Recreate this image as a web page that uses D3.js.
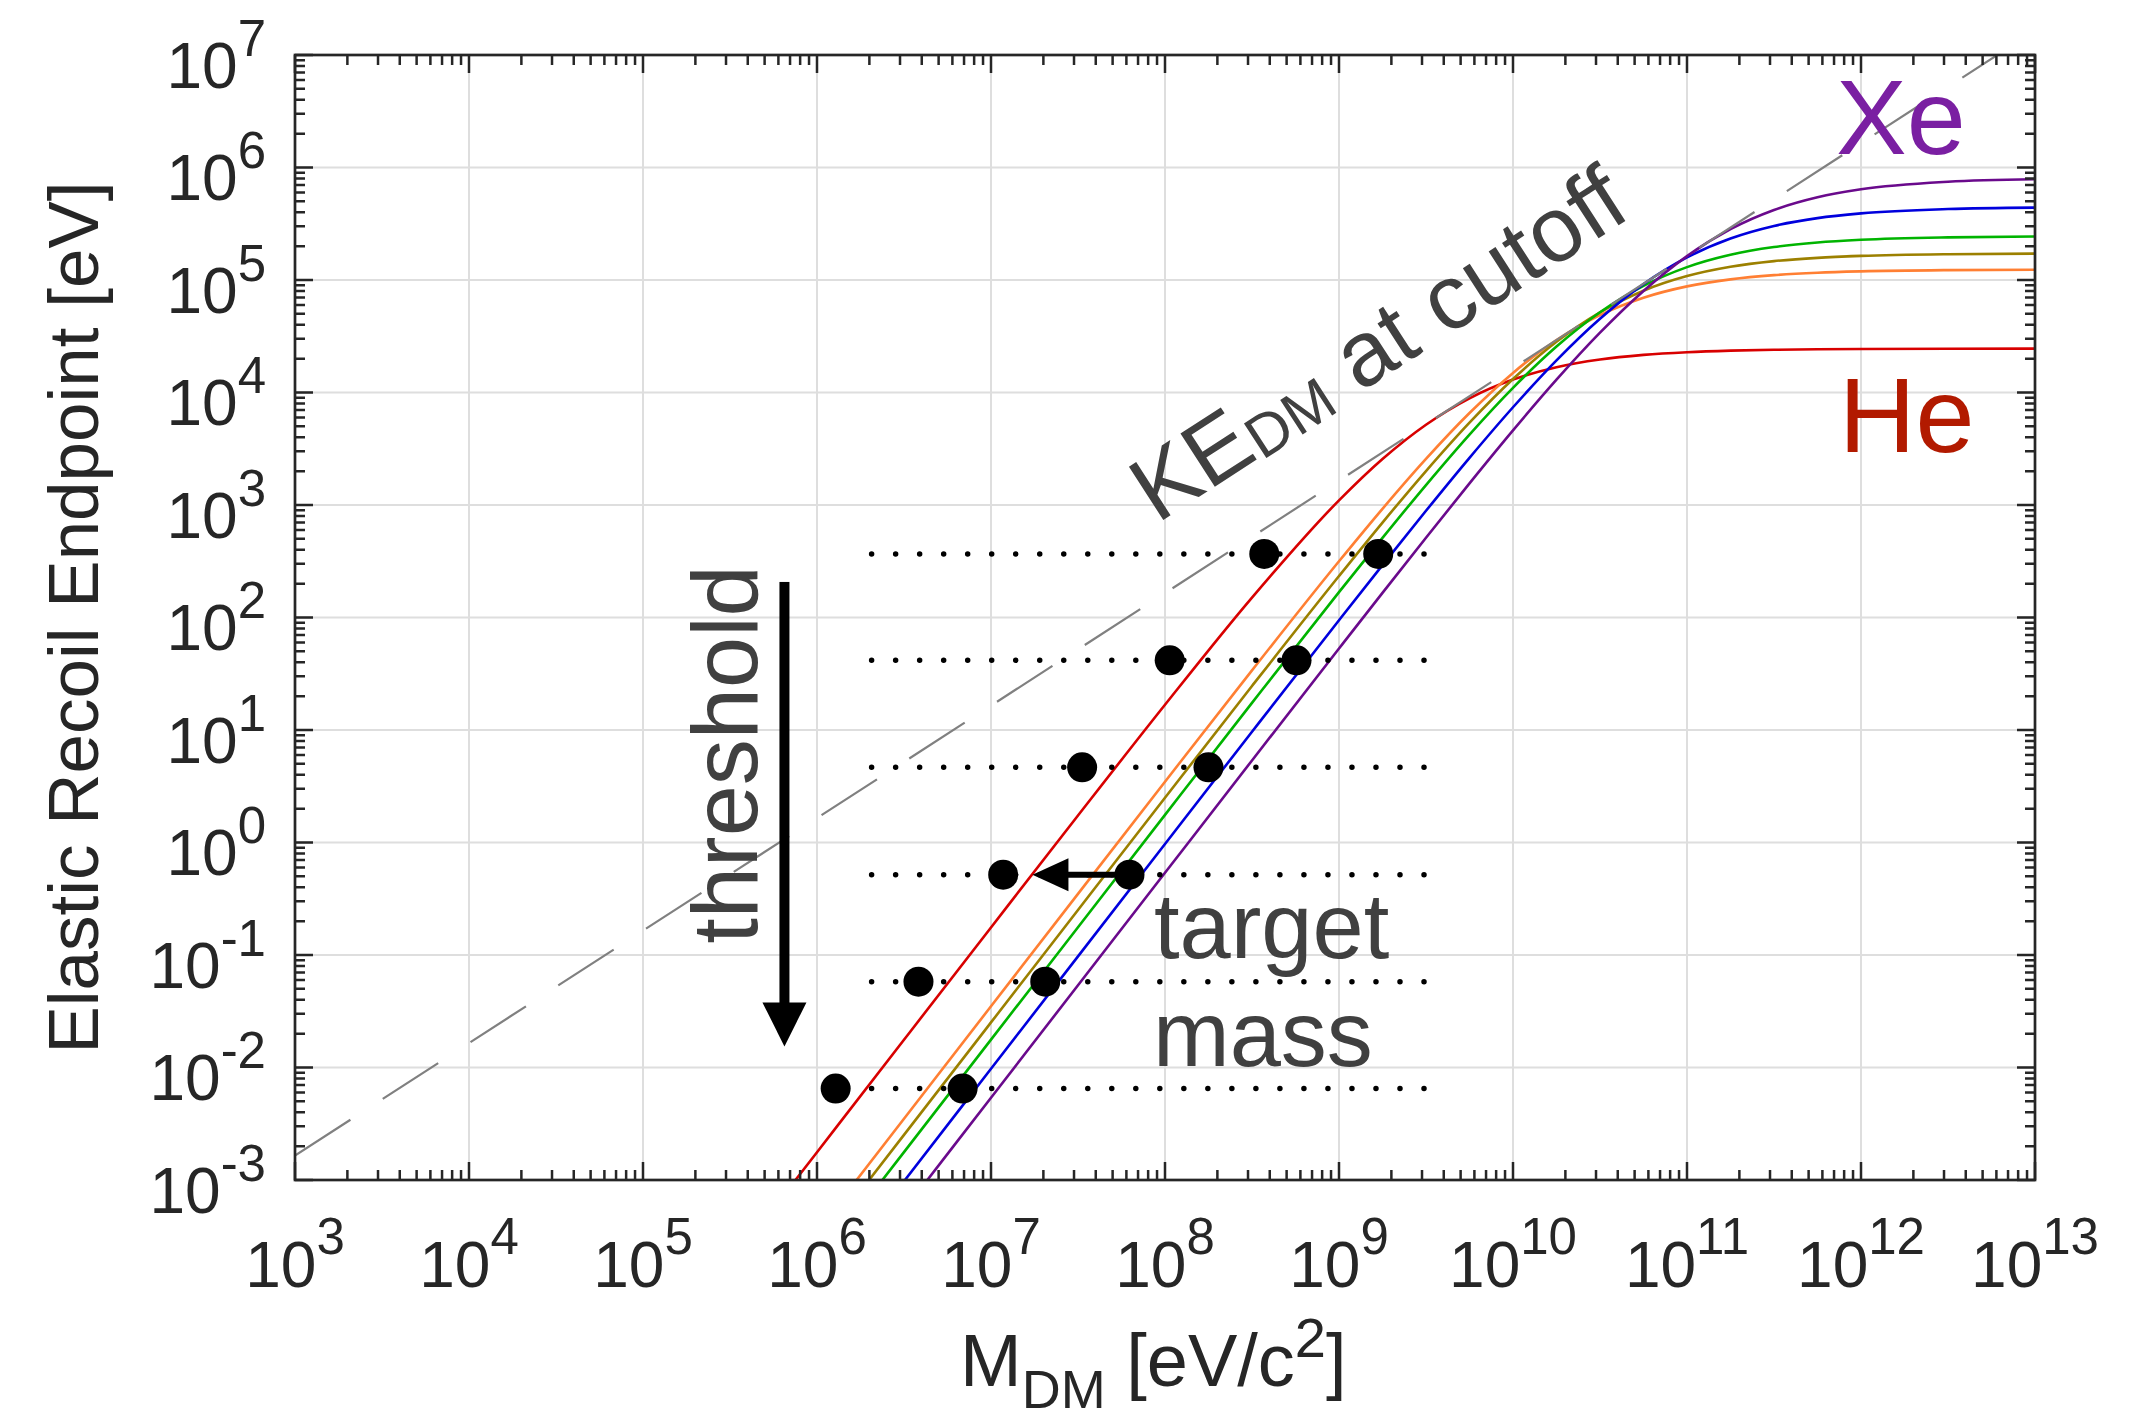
<!DOCTYPE html>
<html lang="en">
<head>
    <meta charset="UTF-8">
    <title>Elastic Recoil Endpoint</title>
    <script src="https://d3js.org/d3.v7.min.js"></script>
    <style>
        body { margin: 0; background: #ffffff; }
        svg text { font-family: "Liberation Sans", Arial, Helvetica, sans-serif; }
    </style>
</head>
<body>
<svg id="chart"></svg>
<script>
    // DM mass grid [eV/c^2], shared by every target curve
    var dmMass = [3.162e5, 1e6, 3.162e6, 1e7, 3.162e7, 1e8, 3.162e8, 1e9, 1.778e9, 3.162e9, 5.623e9,
        1e10, 1.778e10, 3.162e10, 5.623e10, 1e11, 1.778e11, 3.162e11, 5.623e11, 1e12, 3.162e12, 1e13];

    // elastic recoil endpoint [eV] per target
    var heRecoil = [1.767e-4, 1.767e-3, 1.765e-2, 0.1758, 1.738, 16.76, 150.2, 1099, 2563, 5173, 8884,
        13030, 16790, 19660, 21600, 22820, 23560, 23990, 24240, 24380, 24510, 24550];
    var neRecoil = [3.505e-5, 3.504e-4, 3.504e-3, 3.501e-2, 0.3493, 3.468, 33.90, 316.0, 925.2, 2569, 6567,
        14940, 29270, 48740, 69560, 87770, 101300, 110400, 116000, 119300, 122400, 123400];
    var siRecoil = [2.518e-5, 2.518e-4, 2.518e-3, 2.516e-2, 0.2512, 2.499, 24.59, 233.6, 698.2, 2004, 5395,
        13180, 28230, 51610, 80290, 108300, 131000, 147100, 157400, 163700, 169600, 171500];
    var arRecoil = [1.771e-5, 1.771e-4, 1.770e-3, 1.770e-2, 0.1767, 1.761, 17.41, 168.0, 510.0, 1504, 4226,
        11000, 25640, 51740, 88780, 130200, 167700, 196300, 215700, 227900, 239500, 243400];
    var geRecoil = [9.739e-6, 9.739e-5, 9.739e-4, 9.736e-3, 9.730e-2, 0.9710, 9.650, 94.58, 292.4, 888.8, 2626,
        7393, 19310, 45230, 91880, 158600, 233900, 302500, 355000, 391000, 427300, 439800];
    var xeRecoil = [5.387e-6, 5.387e-5, 5.387e-4, 5.386e-3, 5.385e-2, 0.5378, 5.361, 53.00, 165.5, 511.9, 1557,
        4604, 12990, 34010, 79940, 163100, 282900, 419000, 543500, 639700, 746800, 786200];

    var targetNames = ["He", "Ne", "Si", "Ar", "Ge", "Xe"];
    var targetColors = ["#d80000", "#ff7f33", "#9c8000", "#00b400", "#0000dd", "#6a0a8c"];

    // KE of the DM at the cutoff velocity
    var keMass = [1e3, 1e13];
    var keEnergy = [1.647e-3, 1.647e7];

    // threshold rows, their dotted extent and the two dots on each row
    var thresholds = [367.3, 41.6, 4.656, 0.5176, 0.05794, 0.006501];
    var rowMassSpan = [2.06e6, 3.08e9];
    var leftDotMass = [3.72e8, 1.064e8, 3.34e7, 1.175e7, 3.83e6, 1.28e6];
    var rightDotMass = [1.68e9, 5.70e8, 1.778e8, 6.25e7, 2.05e7, 6.87e6];

    // arrows (data units)
    var targetArrow = {row: 3, fromMass: 6.25e7, toMass: 1.73e7};
    var thresholdArrow = {mass: 6.5e5, fromE: 207, toE: 0.0154};

    // tick labels
    var xTickExp = [3, 4, 5, 6, 7, 8, 9, 10, 11, 12, 13];
    var yTickExp = [-3, -2, -1, 0, 1, 2, 3, 4, 5, 6, 7];

    var W = 2153, H = 1421;
    var margin = {top: 55, right: 118, bottom: 241, left: 295},
        width = W - margin.left - margin.right,
        height = H - margin.top - margin.bottom;

    var svg = d3.select("#chart").attr("width", W).attr("height", H);
    svg.append("rect").attr("width", W).attr("height", H).attr("fill", "#ffffff");

    var x = d3.scaleLog().domain([1e3, 1e13]).range([0, width]);
    var y = d3.scaleLog().domain([1e-3, 1e7]).range([height, 0]);

    var g = svg.append("g").attr("transform", "translate(" + margin.left + "," + margin.top + ")");

    g.append("clipPath").attr("id", "plotClip")
        .append("rect").attr("width", width).attr("height", height);

    var xMajor = xTickExp.map(function (e) { return Math.pow(10, e); });
    var yMajor = yTickExp.map(function (e) { return Math.pow(10, e); });
    function minorsOf(exps) {
        var out = [];
        for (var i = 0; i < exps.length - 1; i++) {
            for (var m = 2; m <= 9; m++) out.push(m * Math.pow(10, exps[i]));
        }
        return out;
    }
    var xMinor = minorsOf(xTickExp), yMinor = minorsOf(yTickExp);

    // grid
    var gridColor = "#dedede";
    g.selectAll(".xgrid").data(xMajor).enter().append("line")
        .attr("x1", function (d) { return x(d); }).attr("x2", function (d) { return x(d); })
        .attr("y1", 0).attr("y2", height)
        .attr("stroke", gridColor).attr("stroke-width", 2);
    g.selectAll(".ygrid").data(yMajor).enter().append("line")
        .attr("y1", function (d) { return y(d); }).attr("y2", function (d) { return y(d); })
        .attr("x1", 0).attr("x2", width)
        .attr("stroke", gridColor).attr("stroke-width", 2);

    // target curves
    var plot = g.append("g").attr("clip-path", "url(#plotClip)");
    var recoilSets = [heRecoil, neRecoil, siRecoil, arRecoil, geRecoil, xeRecoil];
    var line = d3.line()
        .x(function (d) { return x(d[0]); })
        .y(function (d) { return y(d[1]); })
        .curve(d3.curveMonotoneX);

    recoilSets.forEach(function (vals, i) {
        plot.append("path")
            .datum(d3.zip(dmMass, vals))
            .attr("class", "curve " + targetNames[i])
            .attr("fill", "none")
            .attr("stroke", targetColors[i])
            .attr("stroke-width", 2.6)
            .attr("d", line);
    });

    // dashed KE line
    plot.append("path")
        .datum(d3.zip(keMass, keEnergy))
        .attr("fill", "none")
        .attr("stroke", "#808080")
        .attr("stroke-width", 2.2)
        .attr("stroke-dasharray", "66,38.5")
        .attr("d", d3.line().x(function (d) { return x(d[0]); }).y(function (d) { return y(d[1]); }));

    // dotted threshold rows (24 dots each, last one on the end point)
    var rowLen = x(rowMassSpan[1]) - x(rowMassSpan[0]);
    g.selectAll(".row").data(thresholds).enter().append("line")
        .attr("x1", x(rowMassSpan[0])).attr("x2", x(rowMassSpan[1]) + 1)
        .attr("y1", function (d) { return y(d); }).attr("y2", function (d) { return y(d); })
        .attr("stroke", "#000").attr("stroke-width", 5.5)
        .attr("stroke-linecap", "round")
        .attr("stroke-dasharray", "0," + (rowLen / 23));

    // dots
    var dots = [];
    thresholds.forEach(function (t, i) {
        dots.push([leftDotMass[i], t]);
        dots.push([rightDotMass[i], t]);
    });
    g.selectAll(".dot").data(dots).enter().append("circle")
        .attr("cx", function (d) { return x(d[0]); })
        .attr("cy", function (d) { return y(d[1]); })
        .attr("r", 15).attr("fill", "#000");

    // arrow along row 4 (target mass)
    var ay = y(thresholds[targetArrow.row]);
    var tipX = x(targetArrow.toMass);
    g.append("line")
        .attr("x1", x(targetArrow.fromMass)).attr("x2", tipX + 34)
        .attr("y1", ay).attr("y2", ay)
        .attr("stroke", "#000").attr("stroke-width", 6);
    g.append("path")
        .attr("d", "M" + tipX + "," + ay + "L" + (tipX + 36) + "," + (ay - 16.5) + "L" + (tipX + 36) + "," + (ay + 16.5) + "Z")
        .attr("fill", "#000");

    // threshold arrow
    var tx = x(thresholdArrow.mass), ty0 = y(thresholdArrow.fromE), ty1 = y(thresholdArrow.toE);
    g.append("rect")
        .attr("x", tx - 5).attr("y", ty0).attr("width", 10).attr("height", ty1 - ty0 - 40)
        .attr("fill", "#000");
    g.append("path")
        .attr("d", "M" + tx + "," + ty1 + "L" + (tx - 22) + "," + (ty1 - 44) + "L" + (tx + 22) + "," + (ty1 - 44) + "Z")
        .attr("fill", "#000");

    // axes box + inward ticks
    var axisColor = "#262626";
    g.append("rect").attr("width", width).attr("height", height)
        .attr("fill", "none").attr("stroke", axisColor).attr("stroke-width", 2.7);

    function xTicks(vals, len) {
        g.selectAll(null).data(vals).enter().append("path")
            .attr("d", function (d) {
                var px = x(d);
                return "M" + px + "," + height + "V" + (height - len) + "M" + px + ",0V" + len;
            })
            .attr("stroke", axisColor).attr("stroke-width", 2.5);
    }
    function yTicks(vals, len) {
        g.selectAll(null).data(vals).enter().append("path")
            .attr("d", function (d) {
                var py = y(d);
                return "M0," + py + "H" + len + "M" + width + "," + py + "H" + (width - len);
            })
            .attr("stroke", axisColor).attr("stroke-width", 2.5);
    }
    xTicks(xMajor, 18); xTicks(xMinor, 10);
    yTicks(yMajor, 18); yTicks(yMinor, 10);

    // tick labels  (10 with superscript exponent)
    var baseSize = 64, supSize = 51;
    xTickExp.forEach(function (e) {
        var t = g.append("text")
            .attr("x", x(Math.pow(10, e))).attr("y", height + 106.5)
            .attr("text-anchor", "middle").attr("fill", axisColor)
            .style("font-size", baseSize + "px");
        t.append("tspan").text("10");
        t.append("tspan").attr("dy", -33).style("font-size", supSize + "px").text(e);
    });
    yTickExp.forEach(function (e) {
        var t = g.append("text")
            .attr("x", -29).attr("y", y(Math.pow(10, e)) + 32.5)
            .attr("text-anchor", "end").attr("fill", axisColor)
            .style("font-size", baseSize + "px");
        t.append("tspan").text("10");
        t.append("tspan").attr("dy", -32).style("font-size", supSize + "px").text(e);
    });

    // axis titles
    svg.append("text")
        .attr("transform", "translate(98," + (margin.top + height / 2) + ") rotate(-90)")
        .attr("text-anchor", "middle").attr("fill", axisColor)
        .style("font-size", "71px")
        .text("Elastic Recoil Endpoint [eV]");

    var xl = svg.append("text").attr("x", 960).attr("y", 1386)
        .attr("fill", axisColor).style("font-size", "74px");
    xl.append("tspan").text("M");
    xl.append("tspan").attr("dy", 22).style("font-size", "54px").text("DM");
    xl.append("tspan").attr("dy", -22).text("\u00a0[eV/c");
    xl.append("tspan").attr("dy", -29).style("font-size", "56px").text("2");
    xl.append("tspan").attr("dy", 29).text("]");

    // annotations
    var noteColor = "#404040";
    svg.append("text")
        .attr("transform", "translate(757,754.5) rotate(-90)")
        .attr("text-anchor", "middle").attr("fill", noteColor)
        .style("font-size", "92px").text("threshold");

    svg.append("text").attr("x", 1154).attr("y", 958)
        .attr("fill", noteColor).style("font-size", "92px").text("target");
    svg.append("text").attr("x", 1153).attr("y", 1066)
        .attr("fill", noteColor).style("font-size", "92px").text("mass");

    var ke = svg.append("text")
        .attr("transform", "translate(1157,524) rotate(-32.9)")
        .attr("fill", noteColor).style("font-size", "92px");
    ke.append("tspan").text("KE");
    ke.append("tspan").attr("dy", 4).style("font-size", "60px").text("DM");
    ke.append("tspan").attr("dy", -4).text("\u00a0at cutoff");

    svg.append("text").attr("x", 1836).attr("y", 154)
        .attr("fill", "#7a1fa2").style("font-size", "106px").text("Xe");
    svg.append("text").attr("x", 1839).attr("y", 452)
        .attr("fill", "#b21a00").style("font-size", "106px").text("He");
</script>
</body>
</html>
